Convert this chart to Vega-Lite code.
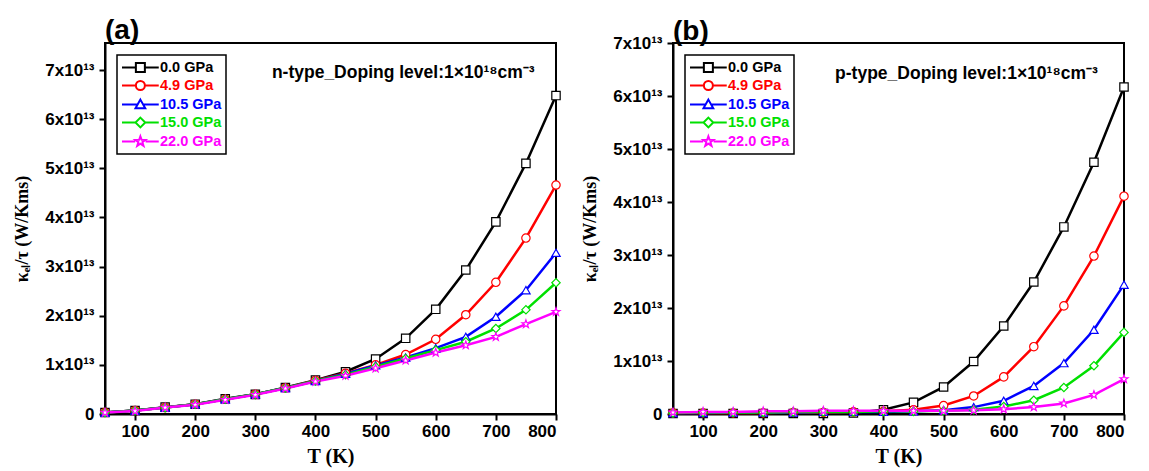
{
  "$schema": "https://vega.github.io/schema/vega-lite/v6.json",
  "padding": {"left": 12, "top": 16, "right": 5, "bottom": 2},
  "background": "white",
  "datasets": {
    "n": [
      {"P":"0.0 GPa","T":50,"k":3e11},{"P":"0.0 GPa","T":100,"k":7e11},{"P":"0.0 GPa","T":150,"k":1.4e12},{"P":"0.0 GPa","T":200,"k":2.0e12},{"P":"0.0 GPa","T":250,"k":3.1e12},{"P":"0.0 GPa","T":300,"k":4.0e12},{"P":"0.0 GPa","T":350,"k":5.4e12},{"P":"0.0 GPa","T":400,"k":6.9e12},{"P":"0.0 GPa","T":450,"k":8.6e12},{"P":"0.0 GPa","T":500,"k":1.12e13},{"P":"0.0 GPa","T":550,"k":1.54e13},{"P":"0.0 GPa","T":600,"k":2.13e13},{"P":"0.0 GPa","T":650,"k":2.93e13},{"P":"0.0 GPa","T":700,"k":3.91e13},{"P":"0.0 GPa","T":750,"k":5.10e13},{"P":"0.0 GPa","T":800,"k":6.48e13},
      {"P":"4.9 GPa","T":50,"k":3e11},{"P":"4.9 GPa","T":100,"k":7e11},{"P":"4.9 GPa","T":150,"k":1.3e12},{"P":"4.9 GPa","T":200,"k":2.0e12},{"P":"4.9 GPa","T":250,"k":3.0e12},{"P":"4.9 GPa","T":300,"k":4.0e12},{"P":"4.9 GPa","T":350,"k":5.3e12},{"P":"4.9 GPa","T":400,"k":6.8e12},{"P":"4.9 GPa","T":450,"k":8.3e12},{"P":"4.9 GPa","T":500,"k":1.00e13},{"P":"4.9 GPa","T":550,"k":1.21e13},{"P":"4.9 GPa","T":600,"k":1.52e13},{"P":"4.9 GPa","T":650,"k":2.02e13},{"P":"4.9 GPa","T":700,"k":2.68e13},{"P":"4.9 GPa","T":750,"k":3.58e13},{"P":"4.9 GPa","T":800,"k":4.66e13},
      {"P":"10.5 GPa","T":50,"k":3e11},{"P":"10.5 GPa","T":100,"k":7e11},{"P":"10.5 GPa","T":150,"k":1.3e12},{"P":"10.5 GPa","T":200,"k":2.0e12},{"P":"10.5 GPa","T":250,"k":3.0e12},{"P":"10.5 GPa","T":300,"k":4.0e12},{"P":"10.5 GPa","T":350,"k":5.3e12},{"P":"10.5 GPa","T":400,"k":6.7e12},{"P":"10.5 GPa","T":450,"k":8.2e12},{"P":"10.5 GPa","T":500,"k":9.9e12},{"P":"10.5 GPa","T":550,"k":1.15e13},{"P":"10.5 GPa","T":600,"k":1.34e13},{"P":"10.5 GPa","T":650,"k":1.57e13},{"P":"10.5 GPa","T":700,"k":1.98e13},{"P":"10.5 GPa","T":750,"k":2.52e13},{"P":"10.5 GPa","T":800,"k":3.28e13},
      {"P":"15.0 GPa","T":50,"k":3e11},{"P":"15.0 GPa","T":100,"k":7e11},{"P":"15.0 GPa","T":150,"k":1.3e12},{"P":"15.0 GPa","T":200,"k":2.0e12},{"P":"15.0 GPa","T":250,"k":3.0e12},{"P":"15.0 GPa","T":300,"k":4.0e12},{"P":"15.0 GPa","T":350,"k":5.3e12},{"P":"15.0 GPa","T":400,"k":6.7e12},{"P":"15.0 GPa","T":450,"k":8.0e12},{"P":"15.0 GPa","T":500,"k":9.6e12},{"P":"15.0 GPa","T":550,"k":1.13e13},{"P":"15.0 GPa","T":600,"k":1.30e13},{"P":"15.0 GPa","T":650,"k":1.47e13},{"P":"15.0 GPa","T":700,"k":1.74e13},{"P":"15.0 GPa","T":750,"k":2.12e13},{"P":"15.0 GPa","T":800,"k":2.67e13},
      {"P":"22.0 GPa","T":50,"k":3e11},{"P":"22.0 GPa","T":100,"k":6e11},{"P":"22.0 GPa","T":150,"k":1.3e12},{"P":"22.0 GPa","T":200,"k":1.9e12},{"P":"22.0 GPa","T":250,"k":2.9e12},{"P":"22.0 GPa","T":300,"k":3.9e12},{"P":"22.0 GPa","T":350,"k":5.2e12},{"P":"22.0 GPa","T":400,"k":6.6e12},{"P":"22.0 GPa","T":450,"k":7.8e12},{"P":"22.0 GPa","T":500,"k":9.3e12},{"P":"22.0 GPa","T":550,"k":1.09e13},{"P":"22.0 GPa","T":600,"k":1.25e13},{"P":"22.0 GPa","T":650,"k":1.40e13},{"P":"22.0 GPa","T":700,"k":1.57e13},{"P":"22.0 GPa","T":750,"k":1.83e13},{"P":"22.0 GPa","T":800,"k":2.08e13}
    ],
    "p": [
      {"P":"0.0 GPa","T":50,"k":1e11},{"P":"0.0 GPa","T":100,"k":1e11},{"P":"0.0 GPa","T":150,"k":1e11},{"P":"0.0 GPa","T":200,"k":1e11},{"P":"0.0 GPa","T":250,"k":1e11},{"P":"0.0 GPa","T":300,"k":1e11},{"P":"0.0 GPa","T":350,"k":2e11},{"P":"0.0 GPa","T":400,"k":8e11},{"P":"0.0 GPa","T":450,"k":2.2e12},{"P":"0.0 GPa","T":500,"k":5.1e12},{"P":"0.0 GPa","T":550,"k":9.9e12},{"P":"0.0 GPa","T":600,"k":1.66e13},{"P":"0.0 GPa","T":650,"k":2.49e13},{"P":"0.0 GPa","T":700,"k":3.53e13},{"P":"0.0 GPa","T":750,"k":4.75e13},{"P":"0.0 GPa","T":800,"k":6.17e13},
      {"P":"4.9 GPa","T":50,"k":2e11},{"P":"4.9 GPa","T":100,"k":2e11},{"P":"4.9 GPa","T":150,"k":2e11},{"P":"4.9 GPa","T":200,"k":2e11},{"P":"4.9 GPa","T":250,"k":3e11},{"P":"4.9 GPa","T":300,"k":3e11},{"P":"4.9 GPa","T":350,"k":4e11},{"P":"4.9 GPa","T":400,"k":5e11},{"P":"4.9 GPa","T":450,"k":8e11},{"P":"4.9 GPa","T":500,"k":1.6e12},{"P":"4.9 GPa","T":550,"k":3.4e12},{"P":"4.9 GPa","T":600,"k":7.0e12},{"P":"4.9 GPa","T":650,"k":1.27e13},{"P":"4.9 GPa","T":700,"k":2.04e13},{"P":"4.9 GPa","T":750,"k":2.98e13},{"P":"4.9 GPa","T":800,"k":4.11e13},
      {"P":"10.5 GPa","T":50,"k":2e11},{"P":"10.5 GPa","T":100,"k":2e11},{"P":"10.5 GPa","T":150,"k":3e11},{"P":"10.5 GPa","T":200,"k":3e11},{"P":"10.5 GPa","T":250,"k":3e11},{"P":"10.5 GPa","T":300,"k":4e11},{"P":"10.5 GPa","T":350,"k":4e11},{"P":"10.5 GPa","T":400,"k":4e11},{"P":"10.5 GPa","T":450,"k":5e11},{"P":"10.5 GPa","T":500,"k":7e11},{"P":"10.5 GPa","T":550,"k":1.3e12},{"P":"10.5 GPa","T":600,"k":2.5e12},{"P":"10.5 GPa","T":650,"k":5.3e12},{"P":"10.5 GPa","T":700,"k":9.6e12},{"P":"10.5 GPa","T":750,"k":1.59e13},{"P":"10.5 GPa","T":800,"k":2.44e13},
      {"P":"15.0 GPa","T":50,"k":2e11},{"P":"15.0 GPa","T":100,"k":3e11},{"P":"15.0 GPa","T":150,"k":3e11},{"P":"15.0 GPa","T":200,"k":3e11},{"P":"15.0 GPa","T":250,"k":4e11},{"P":"15.0 GPa","T":300,"k":4e11},{"P":"15.0 GPa","T":350,"k":4e11},{"P":"15.0 GPa","T":400,"k":5e11},{"P":"15.0 GPa","T":450,"k":5e11},{"P":"15.0 GPa","T":500,"k":6e11},{"P":"15.0 GPa","T":550,"k":8e11},{"P":"15.0 GPa","T":600,"k":1.4e12},{"P":"15.0 GPa","T":650,"k":2.6e12},{"P":"15.0 GPa","T":700,"k":5.0e12},{"P":"15.0 GPa","T":750,"k":9.1e12},{"P":"15.0 GPa","T":800,"k":1.54e13},
      {"P":"22.0 GPa","T":50,"k":3e11},{"P":"22.0 GPa","T":100,"k":4e11},{"P":"22.0 GPa","T":150,"k":4e11},{"P":"22.0 GPa","T":200,"k":5e11},{"P":"22.0 GPa","T":250,"k":5e11},{"P":"22.0 GPa","T":300,"k":6e11},{"P":"22.0 GPa","T":350,"k":6e11},{"P":"22.0 GPa","T":400,"k":6e11},{"P":"22.0 GPa","T":450,"k":6e11},{"P":"22.0 GPa","T":500,"k":6e11},{"P":"22.0 GPa","T":550,"k":7e11},{"P":"22.0 GPa","T":600,"k":9e11},{"P":"22.0 GPa","T":650,"k":1.3e12},{"P":"22.0 GPa","T":700,"k":2.0e12},{"P":"22.0 GPa","T":750,"k":3.6e12},{"P":"22.0 GPa","T":800,"k":6.6e12}
    ]
  },
  "bounds": "flush",
  "spacing": 117,
  "resolve": {"legend": {"color": "independent"}},
  "hconcat": [
    {
      "width": 451,
      "height": 371,
      "title": {"text": "(a)", "anchor": "start", "frame": "group", "font": "Liberation Sans", "fontSize": 28, "fontWeight": "bold", "color": "black", "offset": -2},
      "layer": [
        {
          "data": {"name": "n"},
          "mark": {"type": "line", "strokeWidth": 2.5},
          "encoding": {
            "x": {"field": "T", "type": "quantitative", "scale": {"domain": [50, 800], "nice": false}, "axis": {"values": [100,200,300,400,500,600,700,800], "title": "T (K)"}},
            "y": {"field": "k", "type": "quantitative", "scale": {"domain": [0, 7.55e13], "nice": false}, "axis": {"values": [0,1e13,2e13,3e13,4e13,5e13,6e13,7e13], "labelExpr": "datum.value == 0 ? '0' : format(datum.value/1e13, 'd') + 'x10¹³'", "title": "κₑₗ/τ (W/Kms)"}},
            "color": {"field": "P", "type": "nominal",
              "scale": {"domain": ["0.0 GPa","4.9 GPa","10.5 GPa","15.0 GPa","22.0 GPa"], "range": ["#000000","#ff0000","#0000ff","#00e000","#ff00ff"]},
              "legend": {
                "orient": "top-left", "offset": 12, "title": null,
                "strokeColor": "black", "fillColor": "white", "padding": 4,
                "labelFont": "Liberation Sans", "labelFontWeight": "bold", "labelFontSize": 14.5,
                "symbolSize": 225, "labelOffset": 22, "symbolStrokeWidth": 2, "rowPadding": 0,
                "encode": {
                  "legend": {"update": {"strokeWidth": {"value": 1.5}}},
                  "symbols": {"update": {
                    "fill": {"value": "white"},
                    "shape": {"signal": "datum.label=='0.0 GPa' ? 'M-1,0H0.85M2.05,0H3.9M0.85,-0.6H2.05V0.6H0.85Z' : datum.label=='4.9 GPa' ? 'M-1,0H0.85M2.05,0H3.9M2.05,0A0.6,0.6,0,1,1,0.85,0A0.6,0.6,0,1,1,2.05,0Z' : datum.label=='10.5 GPa' ? 'M-1,0H1.08M1.82,0H3.9M1.45,-0.65L2.1,0.5L0.8,0.5Z' : datum.label=='15.0 GPa' ? 'M-1,0H0.8M2.1,0H3.9M1.45,-0.65L2.1,0L1.45,0.65L0.8,0Z' : 'M-1,0H0.75M2.15,0H3.9M1.45,-0.7L1.615,-0.227L2.116,-0.216L1.716,0.087L1.862,0.566L1.45,0.28L1.038,0.566L1.184,0.087L0.784,-0.216L1.285,-0.227Z'"}
                  }},
                  "labels": {"update": {"fill": {"signal": "datum.label=='0.0 GPa' ? '#000000' : datum.label=='4.9 GPa' ? '#ff0000' : datum.label=='10.5 GPa' ? '#0000ff' : datum.label=='15.0 GPa' ? '#00e000' : '#ff00ff'"}}}
                }
              }
            }
          }
        },
        {
          "data": {"name": "n"},
          "mark": {"type": "point", "filled": false, "fill": "white", "fillOpacity": 1, "size": 70, "strokeWidth": 1.2, "opacity": 1},
          "encoding": {
            "x": {"field": "T", "type": "quantitative"},
            "y": {"field": "k", "type": "quantitative"},
            "color": {"field": "P", "type": "nominal"},
            "shape": {"field": "P", "type": "nominal", "legend": null,
              "scale": {"domain": ["0.0 GPa","4.9 GPa","10.5 GPa","15.0 GPa","22.0 GPa"], "range": ["square","circle","triangle-up","diamond","M0,-1L0.235,-0.324L0.951,-0.309L0.380,0.124L0.588,0.809L0,0.4L-0.588,0.809L-0.380,0.124L-0.951,-0.309L-0.235,-0.324Z"]}}
          }
        },
        {
          "data": {"values": [{}]},
          "mark": {"type": "text", "font": "Liberation Sans", "fontSize": 17.5, "fontWeight": "bold", "color": "black"},
          "encoding": {
            "x": {"datum": 546},
            "y": {"datum": 6.93e13},
            "text": {"value": "n-type_Doping level:1×10¹⁸cm⁻³"}
          }
        }
      ]
    },
    {
      "width": 451,
      "height": 371,
      "title": {"text": "(b)", "anchor": "start", "frame": "group", "font": "Liberation Sans", "fontSize": 28, "fontWeight": "bold", "color": "black", "offset": -12},
      "layer": [
        {
          "data": {"name": "p"},
          "mark": {"type": "line", "strokeWidth": 2.5},
          "encoding": {
            "x": {"field": "T", "type": "quantitative", "scale": {"domain": [50, 800], "nice": false}, "axis": {"values": [100,200,300,400,500,600,700,800], "title": "T (K)"}},
            "y": {"field": "k", "type": "quantitative", "scale": {"domain": [0, 7.0e13], "nice": false}, "axis": {"values": [0,1e13,2e13,3e13,4e13,5e13,6e13,7e13], "labelExpr": "datum.value == 0 ? '0' : format(datum.value/1e13, 'd') + 'x10¹³'", "title": "κₑₗ/τ (W/Kms)"}},
            "color": {"field": "P", "type": "nominal",
              "scale": {"domain": ["0.0 GPa","4.9 GPa","10.5 GPa","15.0 GPa","22.0 GPa"], "range": ["#000000","#ff0000","#0000ff","#00e000","#ff00ff"]},
              "legend": {
                "orient": "top-left", "offset": 12, "title": null,
                "strokeColor": "black", "fillColor": "white", "padding": 4,
                "labelFont": "Liberation Sans", "labelFontWeight": "bold", "labelFontSize": 14.5,
                "symbolSize": 225, "labelOffset": 22, "symbolStrokeWidth": 2, "rowPadding": 0,
                "encode": {
                  "legend": {"update": {"strokeWidth": {"value": 1.5}}},
                  "symbols": {"update": {
                    "fill": {"value": "white"},
                    "shape": {"signal": "datum.label=='0.0 GPa' ? 'M-1,0H0.85M2.05,0H3.9M0.85,-0.6H2.05V0.6H0.85Z' : datum.label=='4.9 GPa' ? 'M-1,0H0.85M2.05,0H3.9M2.05,0A0.6,0.6,0,1,1,0.85,0A0.6,0.6,0,1,1,2.05,0Z' : datum.label=='10.5 GPa' ? 'M-1,0H1.08M1.82,0H3.9M1.45,-0.65L2.1,0.5L0.8,0.5Z' : datum.label=='15.0 GPa' ? 'M-1,0H0.8M2.1,0H3.9M1.45,-0.65L2.1,0L1.45,0.65L0.8,0Z' : 'M-1,0H0.75M2.15,0H3.9M1.45,-0.7L1.615,-0.227L2.116,-0.216L1.716,0.087L1.862,0.566L1.45,0.28L1.038,0.566L1.184,0.087L0.784,-0.216L1.285,-0.227Z'"}
                  }},
                  "labels": {"update": {"fill": {"signal": "datum.label=='0.0 GPa' ? '#000000' : datum.label=='4.9 GPa' ? '#ff0000' : datum.label=='10.5 GPa' ? '#0000ff' : datum.label=='15.0 GPa' ? '#00e000' : '#ff00ff'"}}}
                }
              }
            }
          }
        },
        {
          "data": {"name": "p"},
          "mark": {"type": "point", "filled": false, "fill": "white", "fillOpacity": 1, "size": 70, "strokeWidth": 1.2, "opacity": 1},
          "encoding": {
            "x": {"field": "T", "type": "quantitative"},
            "y": {"field": "k", "type": "quantitative"},
            "color": {"field": "P", "type": "nominal"},
            "shape": {"field": "P", "type": "nominal", "legend": null,
              "scale": {"domain": ["0.0 GPa","4.9 GPa","10.5 GPa","15.0 GPa","22.0 GPa"], "range": ["square","circle","triangle-up","diamond","M0,-1L0.235,-0.324L0.951,-0.309L0.380,0.124L0.588,0.809L0,0.4L-0.588,0.809L-0.380,0.124L-0.951,-0.309L-0.235,-0.324Z"]}}
          }
        },
        {
          "data": {"values": [{}]},
          "mark": {"type": "text", "font": "Liberation Sans", "fontSize": 17.5, "fontWeight": "bold", "color": "black"},
          "encoding": {
            "x": {"datum": 538},
            "y": {"datum": 6.42e13},
            "text": {"value": "p-type_Doping level:1×10¹⁸cm⁻³"}
          }
        }
      ]
    }
  ],
  "config": {
    "view": {"stroke": "black", "strokeWidth": 2},
    "axis": {
      "domainColor": "black", "domainWidth": 2, "tickColor": "black", "tickWidth": 2, "tickSize": 6,
      "labelFont": "Liberation Sans", "labelFontWeight": "bold", "labelFontSize": 17, "labelColor": "black",
      "titleFont": "Liberation Serif", "titleFontWeight": "bold", "titleColor": "black", "grid": false
    },
    "axisX": {"labelPadding": 3, "titleFontSize": 20, "titlePadding": 7},
    "axisY": {"labelPadding": 5, "titleFontSize": 18, "titlePadding": 13}
  }
}
